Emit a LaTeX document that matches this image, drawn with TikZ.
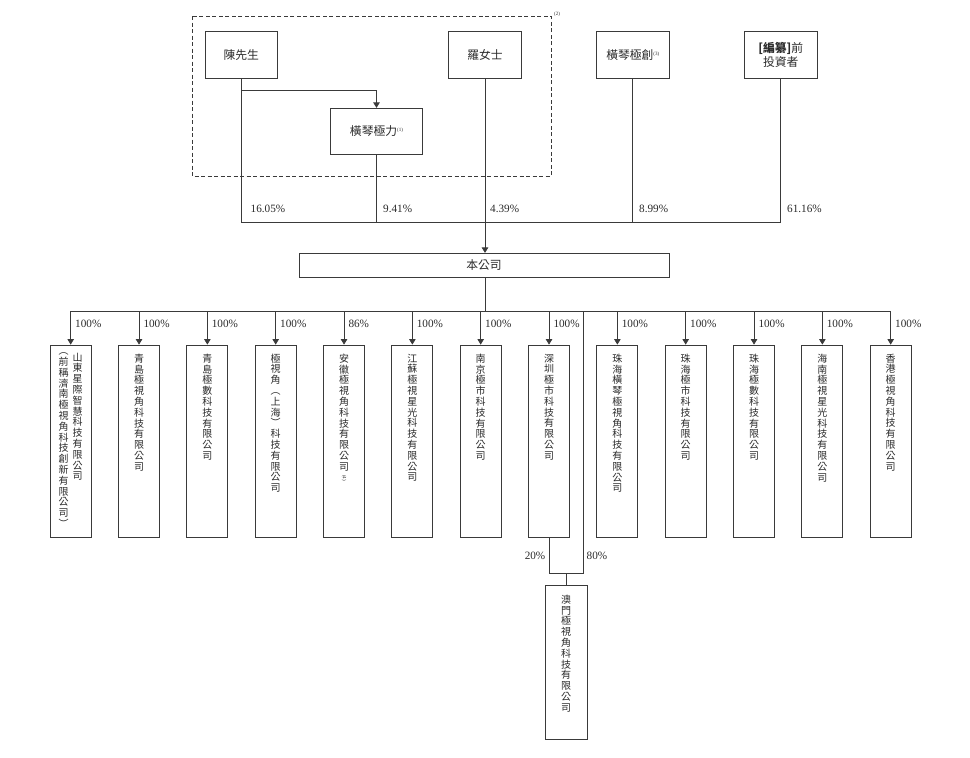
\documentclass[tikz,border=0pt]{standalone}
\usepackage{fontspec}
\usepackage{graphicx}
\setmainfont{Liberation Serif}
\newfontfamily\cjk{Noto Sans CJK TC}
\usetikzlibrary{arrows.meta,calc}
\definecolor{lc}{HTML}{3A3A3A}
\definecolor{tc}{HTML}{2A2A2A}
\ExplSyntaxOn
\NewDocumentCommand\vst{m}{\vbox:n{\tl_map_inline:nn{#1}{\hbox_to_wd:nn{1em}{\hss ##1 \hss}}}}
\ExplSyntaxOff
\newcommand\supn[1]{{\rmfamily\fontsize{5}{5}\selectfont\raisebox{4pt}{(#1)}}}
\tikzset{
  box/.style={draw=lc, line width=0.8pt, inner sep=0pt, text=tc, align=center,
    font=\cjk\fontsize{11.8}{14}\selectfont},
  sub/.style={draw=lc, line width=0.8pt, minimum width=41pt, minimum height=192pt, inner sep=0pt},
  vt/.style={font=\cjk\fontsize{10}{10.8}\selectfont, text=tc, inner sep=0pt, anchor=north},
  conn/.style={draw=lc, line width=0.7pt},
  arr/.style={conn, -{Triangle[length=5.5pt,width=6.5pt]}},
  pct/.style={font=\fontsize{11.2}{13}\selectfont, text=tc, inner sep=0pt},
}
\begin{document}
\begin{tikzpicture}[x=1pt,y=-1pt]
\useasboundingbox (0,0) rectangle (970,758);
% group frame
\draw[lc, line width=0.7pt, dash pattern=on 4pt off 2.5pt] (192,16) rectangle (551,176);
\node[font=\rmfamily\fontsize{5}{5}\selectfont, text=tc, inner sep=0pt] (n2) at (557,14) {(2)};
% shareholders
\node[box, minimum width=72pt, minimum height=46.5pt] (chen) at (241.3,55) {陳先生};
\node[box, minimum width=73pt, minimum height=46.5pt] (luo) at (485,55) {羅女士};
\node[box, minimum width=91.5pt, minimum height=46pt] (hl) at (376.5,131.3) {橫琴極力\supn{1}};
\node[box, minimum width=72.5pt, minimum height=46.5pt] (hq) at (632.8,55) {橫琴極創\supn{3}};
\node[box, minimum width=73pt, minimum height=46.5pt] (inv) at (780.8,55) {\textbf{[}{\bfseries 編纂}\textbf{]}前\\投資者};
\node[box, minimum width=370pt, minimum height=24pt] (co) at (484,265.3) {本公司};
% top connectors
\coordinate (tb) at (485,222);
\coordinate (cj) at (241.3,90.7);
\draw[conn] (chen.south) -- (chen.south |- tb);
\draw[arr] (cj) -| (hl.north);
\draw[conn] (hl.south) -- (hl.south |- tb);
\draw[conn] (hq.south) -- (hq.south |- tb);
\draw[conn] (inv.south) -- (inv.south |- tb);
\draw[conn] (chen.south |- tb) -- (inv.south |- tb);
\draw[arr] (luo.south) -- (luo.south |- co.north);
\node[pct, anchor=west] (p1) at (250.5,208.5) {16.05\%};
\node[pct, anchor=west] (p2) at (383,208.5) {9.41\%};
\node[pct, anchor=west] (p3) at (490,208.5) {4.39\%};
\node[pct, anchor=west] (p4) at (639,208.5) {8.99\%};
\node[pct, anchor=west] (p5) at (787,208.5) {61.16\%};
% subsidiaries
\coordinate (bus) at (485,311);
\draw[conn] (co.south -| bus) -- (bus);
\foreach \i in {1,...,13} {
  \node[sub] (s\i) at ({70.7+68.333*(\i-1)},441) {};
}
\draw[conn] (s1.north |- bus) -- (s13.north |- bus);
\foreach \i/\p in {1/100,2/100,3/100,4/100,5/86,6/100,7/100,8/100,9/100,10/100,11/100,12/100,13/100} {
  \draw[arr] (s\i.north |- bus) -- (s\i.north);
  \node[pct, anchor=west] (q\i) at ($(s\i.north |- bus)+(4.3,12.5)$) {\p\%};
}
\node[vt] (t1a) at ($(s1.north)+(7,8)$) {\vst{山東星際智慧科技有限公司}};
\node[vt] (t1b) at ($(s1.north)+(-7,8)$) {\vst{︵前稱濟南極視角科技創新有限公司︶}};
\node[vt] (t2) at ($(s2.north)+(0,9)$) {\vst{青島極視角科技有限公司}};
\node[vt] (t3) at ($(s3.north)+(0,9)$) {\vst{青島極數科技有限公司}};
\node[vt] (t4) at ($(s4.north)+(0,9)$) {\vst{極視角︵上海︶科技有限公司}};
\node[vt] (t5) at ($(s5.north)+(0,9)$) {\vst{安徽極視角科技有限公司{\raisebox{6pt}{\rotatebox{-90}{\rmfamily\fontsize{5}{5}\selectfont(4)}}}}};
\node[vt] (t6) at ($(s6.north)+(0,9)$) {\vst{江蘇極視星光科技有限公司}};
\node[vt] (t7) at ($(s7.north)+(0,9)$) {\vst{南京極市科技有限公司}};
\node[vt] (t8) at ($(s8.north)+(0,9)$) {\vst{深圳極市科技有限公司}};
\node[vt] (t9) at ($(s9.north)+(0,9)$) {\vst{珠海橫琴極視角科技有限公司}};
\node[vt] (t10) at ($(s10.north)+(0,9)$) {\vst{珠海極市科技有限公司}};
\node[vt] (t11) at ($(s11.north)+(0,9)$) {\vst{珠海極數科技有限公司}};
\node[vt] (t12) at ($(s12.north)+(0,9)$) {\vst{海南極視星光科技有限公司}};
\node[vt] (t13) at ($(s13.north)+(0,9)$) {\vst{香港極視角科技有限公司}};
% Macau
\node[draw=lc, line width=0.8pt, minimum width=42pt, minimum height=154pt, inner sep=0pt] (mac) at (566,662) {};
\node[vt] (tm) at ($(mac.north)+(0,10)$) {\vst{澳門極視角科技有限公司}};
\coordinate (br) at (566,573);
\coordinate (r80) at (583,311);
\draw[conn] (s8.south) |- (r80 |- br) -- (r80);
\draw[conn] (br) -- (mac.north);
\node[pct, anchor=east] (p20) at (545.5,556) {20\%};
\node[pct, anchor=west] (p80) at (586.5,556) {80\%};
\end{tikzpicture}
\end{document}
